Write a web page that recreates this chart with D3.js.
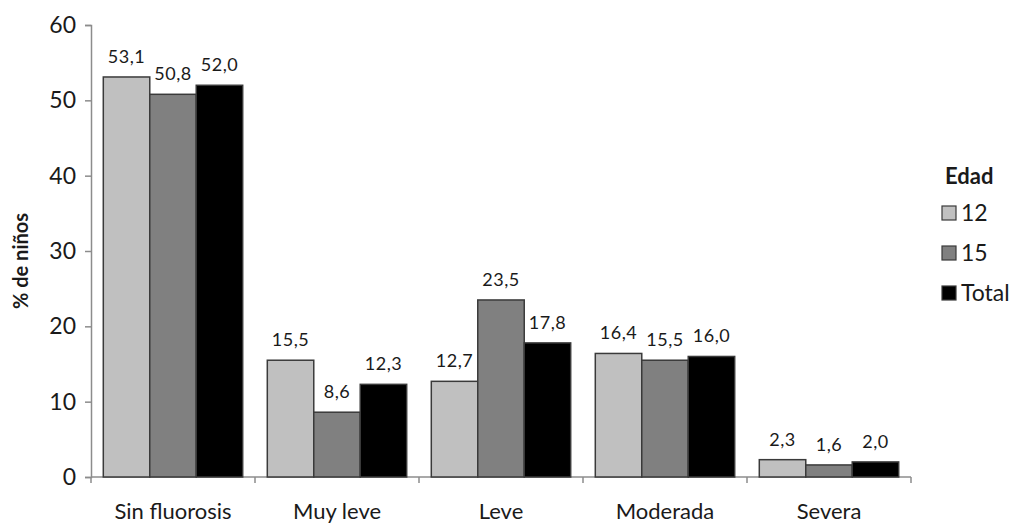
<!DOCTYPE html>
<html>
<head>
<meta charset="utf-8">
<script src="https://cdn.jsdelivr.net/npm/d3@7"></script>
<style>
  html, body { margin: 0; padding: 0; background: #fff; }
  svg { display: block; }
  text { font-family: Lato, "Open Sans", sans-serif; fill: #1a1a1a; }
</style>
</head>
<body>
<svg id="chart" width="1014" height="523"></svg>
<script>
// Fluorosis severity by age group (% of children)
const categories = ["Sin fluorosis", "Muy leve", "Leve", "Moderada", "Severa"];
const seriesNames = ["12", "15", "Total"];
const values12 = [53.1, 15.5, 12.7, 16.4, 2.3];
const values15 = [50.8, 8.6, 23.5, 15.5, 1.6];
const valuesTotal = [52.0, 12.3, 17.8, 16.0, 2.0];
const yTicks = [0, 10, 20, 30, 40, 50, 60];
const colors = ["#c0c0c0", "#808080", "#000000"];

const allSeries = [values12, values15, valuesTotal];
const rows = categories.map((c, i) => ({
  cat: c,
  vals: seriesNames.map((s, j) => ({ series: s, idx: j, value: allSeries[j][i] }))
}));

const svg = d3.select("#chart");
const margin = { left: 91, right: 103, top: 25, bottom: 46 };
const W = 1014, H = 523;

const x0 = d3.scaleBand().domain(categories).range([margin.left, W - margin.right]).paddingInner(0.15).paddingOuter(0.075);
const x1 = d3.scaleBand().domain(seriesNames).range([0, x0.bandwidth()]).padding(0);
const y = d3.scaleLinear().domain([0, 60]).range([H - margin.bottom, margin.top]);

const fmt = v => v.toFixed(1).replace(".", ",");

// Y axis
const yAxis = svg.append("g")
  .attr("transform", `translate(${margin.left},0)`)
  .call(d3.axisLeft(y).tickValues(yTicks).tickSize(6).tickPadding(9));
yAxis.select(".domain").attr("stroke", "#8c8c8c").attr("stroke-width", 1.5);
yAxis.selectAll(".tick line").attr("stroke", "#8c8c8c").attr("stroke-width", 1.5);
yAxis.selectAll(".tick text").style("font-size", "23px").attr("fill", "#1a1a1a");

// X axis with boundary ticks between categories
const xAxisG = svg.append("g").attr("transform", `translate(0,${y(0)})`);
xAxisG.append("line")
  .attr("x1", margin.left).attr("x2", W - margin.right)
  .attr("stroke", "#8c8c8c").attr("stroke-width", 1.5);
const step = x0.step();
const boundaries = d3.range(categories.length + 1).map(i => x0(categories[0]) - x0.paddingOuter() * step + i * step);
xAxisG.selectAll("line.bt").data(boundaries).join("line")
  .attr("class", "bt")
  .attr("x1", d => d).attr("x2", d => d).attr("y1", 0).attr("y2", 6)
  .attr("stroke", "#8c8c8c").attr("stroke-width", 1.5);
xAxisG.selectAll("text").data(categories).join("text")
  .attr("x", d => x0(d) + x0.bandwidth() / 2)
  .attr("y", 42)
  .attr("text-anchor", "middle")
  .style("font-size", "22px")
  .text(d => d);

// Bars
const groups = svg.append("g").selectAll("g").data(rows).join("g")
  .attr("transform", d => `translate(${x0(d.cat)},0)`);
groups.selectAll("rect").data(d => d.vals).join("rect")
  .attr("x", d => x1(d.series))
  .attr("y", d => y(d.value))
  .attr("width", x1.bandwidth())
  .attr("height", d => y(0) - y(d.value))
  .attr("fill", d => colors[d.idx])
  .attr("stroke", "#3a3a3a")
  .attr("stroke-width", 1.5);
groups.selectAll("text").data(d => d.vals).join("text")
  .attr("x", d => x1(d.series) + x1.bandwidth() / 2)
  .attr("y", d => y(d.value) - 14)
  .attr("text-anchor", "middle")
  .style("font-size", "18px")
  .style("letter-spacing", "0.5px")
  .text(d => fmt(d.value));

// Y axis title
svg.append("text")
  .attr("transform", `translate(28,${(y(0) + y(60)) / 2 + 10}) rotate(-90)`)
  .attr("text-anchor", "middle")
  .style("font-size", "20px")
  .style("font-weight", "bold")
  .text("% de niños");

// Legend
const legend = svg.append("g").attr("transform", "translate(942,0)");
legend.append("text").attr("x", 3).attr("y", 184)
  .style("font-size", "22px").style("font-weight", "bold").text("Edad");
const legendY = [213, 253, 293];
seriesNames.forEach((s, i) => {
  legend.append("rect")
    .attr("x", 0).attr("y", legendY[i] - 7).attr("width", 14).attr("height", 14)
    .attr("fill", colors[i]).attr("stroke", "#3a3a3a").attr("stroke-width", 1.2);
  legend.append("text").attr("x", 19).attr("y", legendY[i] + 8)
    .style("font-size", "23px").text(s);
});
</script>
</body>
</html>
